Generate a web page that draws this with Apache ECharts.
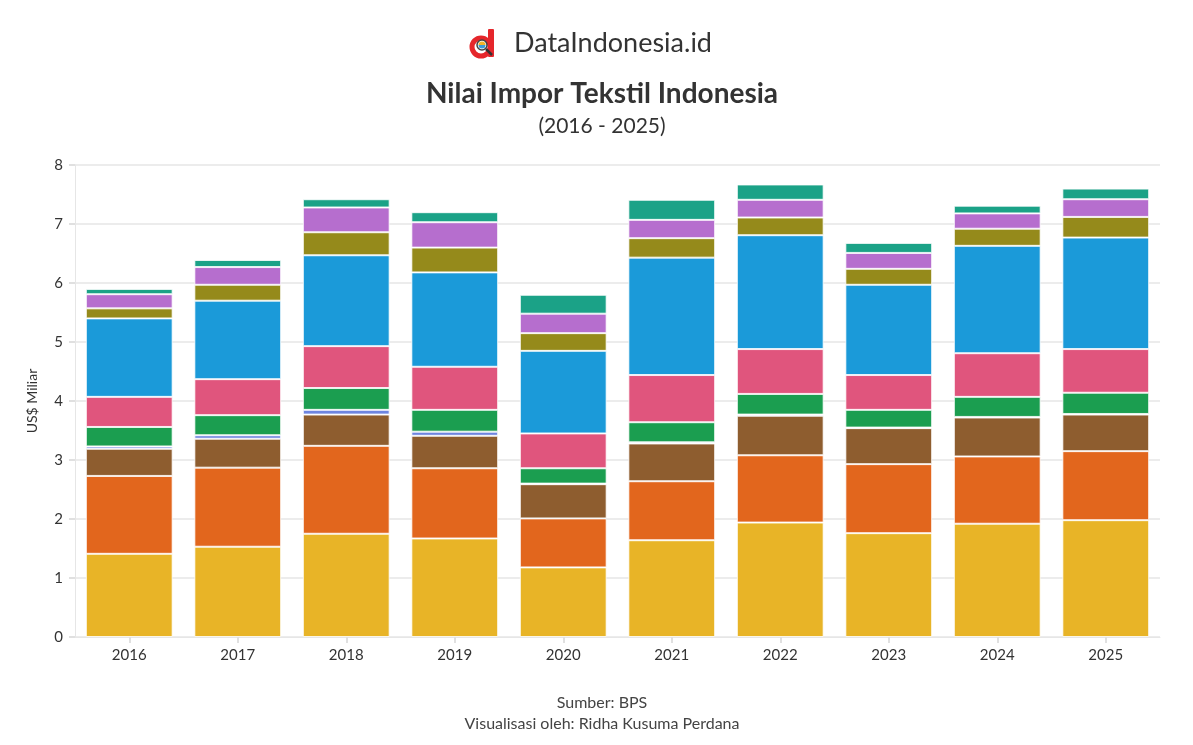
<!DOCTYPE html>
<html>
<head>
<meta charset="utf-8">
<script src="https://cdn.jsdelivr.net/npm/echarts@6/dist/echarts.min.js"></script>
<style>
html,body{margin:0;padding:0;background:#fff;}
#chart{width:1193px;height:745px;}
</style>
</head>
<body>
<div id="chart"></div>
<script>
const years = ['2016','2017','2018','2019','2020','2021','2022','2023','2024','2025'];
const yTicks = [0,1,2,3,4,5,6,7,8];

const seriesNames = ['Kapas','Serat Stapel Buatan','Filamen Buatan','Sutra','Kain Rajutan','Kain Tenun Khusus','Kain Diresapi/Dilapisi','Wol','Serat Tekstil Nabati Lainnya','Kain Kempa & Bukan Tenunan'];

const s1 = [1.41, 1.53, 1.75, 1.67, 1.18, 1.64, 1.94, 1.76, 1.92, 1.98];
const s2 = [1.32, 1.34, 1.49, 1.19, 0.83, 1.00, 1.14, 1.17, 1.14, 1.17];
const s3 = [0.46, 0.49, 0.53, 0.55, 0.58, 0.64, 0.67, 0.61, 0.66, 0.62];
const s4 = [0.04, 0.06, 0.08, 0.07, 0.01, 0.02, 0.02, 0.01, 0.01, 0.01];
const s5 = [0.33, 0.34, 0.37, 0.37, 0.26, 0.34, 0.35, 0.30, 0.34, 0.36];
const s6 = [0.51, 0.61, 0.71, 0.73, 0.59, 0.80, 0.76, 0.59, 0.74, 0.74];
const s7 = [1.33, 1.33, 1.54, 1.60, 1.40, 1.99, 1.93, 1.53, 1.82, 1.89];
const s8 = [0.17, 0.27, 0.39, 0.42, 0.30, 0.33, 0.30, 0.27, 0.29, 0.35];
const s9 = [0.24, 0.30, 0.42, 0.43, 0.33, 0.31, 0.30, 0.27, 0.26, 0.30];
const s10 = [0.09, 0.12, 0.14, 0.17, 0.32, 0.34, 0.26, 0.17, 0.13, 0.18];

const seriesValues = [s1,s2,s3,s4,s5,s6,s7,s8,s9,s10];
const colors = ['#E8B427','#E2661D','#8E5D2F','#6E85E0','#1B9E50','#E0557D','#1B9AD9','#958A1B','#B66ECE','#1BA287'];

const FONT = 'Lato, "Noto Sans", sans-serif';

const chart = echarts.init(document.getElementById('chart'), null, {renderer:'canvas'});
chart.setOption({
  backgroundColor:'#ffffff',
  animation:false,
  title:[
    {text:'Nilai Impor Tekstil Indonesia', left:597, top:75, textAlign:'center',
     textStyle:{fontFamily:FONT, fontWeight:'bold', fontSize:28, color:'#333333'}},
    {text:'(2016 - 2025)', left:597, top:111, textAlign:'center',
     textStyle:{fontFamily:FONT, fontWeight:'normal', fontSize:21, color:'#333333'}},
    {text:'Sumber: BPS', left:597, top:690, textAlign:'center',
     textStyle:{fontFamily:FONT, fontWeight:'normal', fontSize:16, color:'#444444'}},
    {text:'Visualisasi oleh: Ridha Kusuma Perdana', left:597, top:711, textAlign:'center',
     textStyle:{fontFamily:FONT, fontWeight:'normal', fontSize:16, color:'#444444'}}
  ],
  graphic:[
    {type:'circle', shape:{cx:481, cy:47, r:9}, style:{fill:'none', stroke:'#E5262B', lineWidth:5}},
    {type:'rect', shape:{x:488, y:29, width:6, height:28, r:1}, style:{fill:'#E5262B'}},
    {type:'circle', shape:{cx:482, cy:45, r:5}, style:{fill:'#ffffff', stroke:'#444', lineWidth:1.5}},
    {type:'sector', shape:{cx:482, cy:45, r:3.5, startAngle:0, endAngle:Math.PI}, style:{fill:'#3B9BD9'}},
    {type:'sector', shape:{cx:482, cy:45, r:3.5, startAngle:Math.PI, endAngle:Math.PI*2}, style:{fill:'#F2B52A'}},
    {type:'line', shape:{x1:486, y1:49, x2:492, y2:55}, style:{stroke:'#333', lineWidth:2.5}},
    {type:'text', left:514, top:30, style:{text:'DataIndonesia.id', fontFamily:FONT, fontSize:27, fontWeight:'normal', fill:'#333333'}}
  ],
  grid:{left:75, right:33, top:165, bottom:108, containLabel:false},
  tooltip:{trigger:'axis', axisPointer:{type:'shadow'}},
  xAxis:{
    type:'category', data:years,
    axisLine:{show:true, lineStyle:{color:'#e6e6e6', width:1}},
    axisTick:{show:true, alignWithLabel:true, length:6, lineStyle:{color:'#e0e0e0', width:2}},
    axisLabel:{fontFamily:FONT, fontSize:15, color:'#333333', margin:11}
  },
  yAxis:{
    type:'value', min:0, max:8, interval:1,
    name:'US$ Miliar', nameLocation:'middle', nameGap:36, nameRotate:90,
    nameTextStyle:{fontFamily:FONT, fontSize:14, color:'#333333'},
    axisLine:{show:true, lineStyle:{color:'#e6e6e6', width:1}},
    axisTick:{show:true, length:6, lineStyle:{color:'#e0e0e0', width:2}},
    axisLabel:{fontFamily:FONT, fontSize:15, color:'#333333', margin:12,
      formatter:function(v){return yTicks.indexOf(v)>=0 ? String(v) : '';}},
    splitLine:{show:true, lineStyle:{color:'#ececec', width:2}}
  },
  series: seriesValues.map(function(vals,i){
    return {
      name:seriesNames[i], type:'bar', stack:'total', data:vals,
      barCategoryGap:'20%',
      itemStyle:{color:colors[i], borderColor:'rgba(255,255,255,0.8)', borderWidth:1}
    };
  })
});
</script>
</body>
</html>
